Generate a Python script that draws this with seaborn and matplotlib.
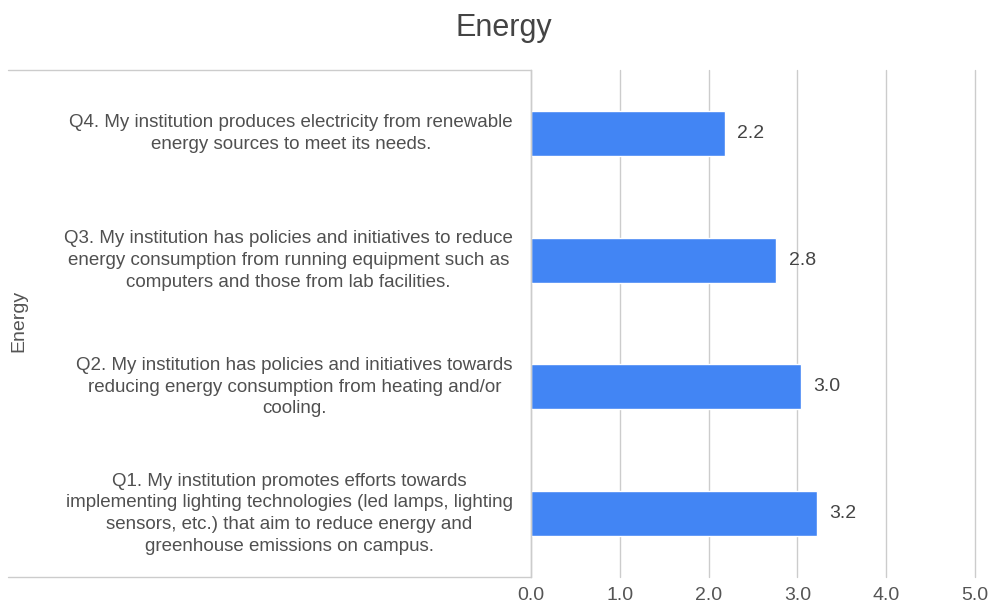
import matplotlib
matplotlib.use("Agg")
import matplotlib.pyplot as plt
from matplotlib.lines import Line2D
from matplotlib.transforms import ScaledTranslation
import seaborn as sns
import pandas as pd

# Survey statements (top to bottom) and mean scores
questions = [
    "Q4. My institution produces electricity from renewable\nenergy sources to meet its needs.",
    "Q3. My institution has policies and initiatives to reduce\nenergy consumption from running equipment such as\ncomputers and those from lab facilities.",
    "Q2. My institution has policies and initiatives towards\nreducing energy consumption from heating and/or\ncooling.",
    "Q1. My institution promotes efforts towards\nimplementing lighting technologies (led lamps, lighting\nsensors, etc.) that aim to reduce energy and\ngreenhouse emissions on campus.",
]
scores = [2.18, 2.76, 3.04, 3.22]
x_ticks = [0, 1, 2, 3, 4, 5]
x_tick_labels = ["0.0", "1.0", "2.0", "3.0", "4.0", "5.0"]

df = pd.DataFrame({"question": questions, "score": scores})

sns.set_theme(style="white")
plt.rcParams["font.family"] = ["Liberation Sans", "DejaVu Sans"]

W, H = 990, 607
fig = plt.figure(figsize=(W / 100, H / 100), dpi=100)
left, right, top, bottom = 531, 975, 70, 577
ax = fig.add_axes([left / W, 1 - bottom / H, (right - left) / W, (bottom - top) / H])

sns.barplot(data=df, x="score", y="question", orient="h", color="#4285F4",
            width=0.355, saturation=1, ax=ax)

ax.set_xlim(0, 5)
ax.set_xticks(x_ticks)
ax.set_xticklabels(x_tick_labels)
ax.grid(axis="x", color="#cccccc", linewidth=1.0)
ax.set_axisbelow(True)
for gl in ax.get_xgridlines():
    gl.set_clip_on(False)
for s in ["top", "right", "bottom"]:
    ax.spines[s].set_visible(False)
ax.spines["left"].set_color("#cccccc")
ax.spines["left"].set_linewidth(1.0)
ax.set_xlabel("")
ax.set_ylabel("")

ax.tick_params(axis="x", length=0, pad=7, labelsize=14, labelcolor="#555555")
ax.tick_params(axis="y", length=0, pad=13, labelsize=13.5, labelcolor="#505050")
lift = ScaledTranslation(0, 3 / 72, fig.dpi_scale_trans)
for lbl in ax.get_yticklabels():
    lbl.set_multialignment("center")
    lbl.set_linespacing(1.37)
    lbl.set_transform(lbl.get_transform() + lift)

for cont in ax.containers:
    ax.bar_label(cont, fmt="%.1f", padding=9, fontsize=14, color="#444444")

# Frame around the category label area
for yy in (top, bottom):
    fig.add_artist(Line2D([8 / W, left / W], [1 - yy / H, 1 - yy / H],
                          color="#cccccc", linewidth=1.0))

fig.text(19 / W, 1 - 321 / H, "Energy", rotation=90, ha="center", va="center",
         fontsize=14, color="#555555")
fig.text(504 / W, 1 - 28 / H, "Energy", ha="center", va="center",
         fontsize=22, color="#444444")

fig.savefig("out.png", dpi=100, facecolor="white")
